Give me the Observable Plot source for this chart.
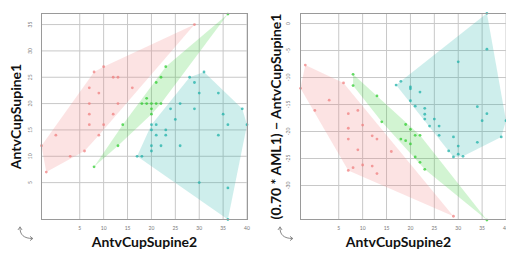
<!DOCTYPE html>
<html><head><meta charset="utf-8">
<script src="https://cdn.jsdelivr.net/npm/d3@7"></script>
<script src="https://cdn.jsdelivr.net/npm/@observablehq/plot@0.6"></script>
<style>
body{margin:0;background:#fff;width:506px;height:253px;overflow:hidden;position:relative;font-family:Lato,sans-serif}
#left,#right,#icons{position:absolute;top:0}
#left{left:0}#right{left:253px}#icons{left:0;pointer-events:none}
</style></head><body>
<div id="left"></div><div id="right"></div>
<svg id="icons" width="506" height="253"></svg>
<script>
// ---- tick labels ----
const xTicks = [5,10,15,20,25,30,35,40];
const leftYTicks = [5,10,15,20,25,30,35];
const rightYTicks = [0,-5,-10,-15,-20,-25,-30];

// ---- titles ----
const xTitle = "AntvCupSupine2";
const leftYTitle = "AntvCupSupine1";
const rightYTitle = "(0.70 * AML1) \u2212 AntvCupSupine1";

// ---- left panel data ----
const leftRedX   = [29, 8,10,12,13, 7, 9,16, 7,13, 7,12, 7,10, 0, 9,-3, 6, 3,-2];
const leftRedY   = [35,26,27,25,25,23,22,23,20,20,18,18,16,16,14,14,12,11,10, 7];
const leftGreenX = [36,23,22,21,19,18,19,20,21,22,20,20,14,13, 8];
const leftGreenY = [37,27,25,24,21,20,20,20,20,20,19,18,16,12, 8];
const leftTealX  = [31,28,29,30,34,26,24,29,39,35,25,20,21,36,40,20,23,21,23,34,20,22,26,20,17,18,30,36,36];
const leftTealY  = [26,25,24,22,22,20,19,19,19,18,17,16,16,16,16,15,15,14,14,14,12,12,12,11,10,10, 5, 4,-2];

// ---- right panel data ----
const rightRedX   = [-2,-3, 6, 3, 0, 7, 9,10, 7, 7,12,13, 9,16,10, 8,12, 7,13,29];
const rightRedY   = [-7.7,-12,-11,-14.2,-16.1,-16.7,-16.1,-18.8,-19.4,-21.4,-20.8,-21.4,-23.4,-23.7,-26.2,-26.7,-26.4,-27.2,-27.8,-35.7];
const rightGreenX = [8, 8,13,14,19,20,21,22,18,19,20,21,22,23,36];
const rightGreenY = [-9.4,-11.5,-13.4,-18.2,-18.7,-19.6,-20.7,-20.7,-21.4,-21.7,-22.3,-24.7,-25.7,-27.0,-36.4];
const rightTealX  = [36,36,30,17,18,20,20,22,20,21,23,23,23,25,34,36,35,40,24,26,26,29,39,34,30,28,30,29,31];
const rightTealY  = [1.9,-4.75,-7.1,-11.4,-10.7,-11.75,-12.1,-12.7,-14.3,-15.3,-15.7,-16.8,-17.7,-17.7,-15.4,-16.7,-18,-18,-19,-19,-20.7,-21,-21,-22,-22.7,-23.6,-24.2,-24.7,-24.6];

const groupColors = ["lightcoral","limegreen","lightseagreen"];

function rows(xs, ys){ return xs.map((x,i)=>({x, y: ys[i]})); }

function panel(groups, opts){
  const marks = [
    Plot.ruleX(xTicks, {stroke:"#c8c8c8", strokeWidth:1}),
    Plot.ruleY(opts.yTicks, {stroke:"#c8c8c8", strokeWidth:1})
  ];
  groups.forEach((g,i)=>{
    marks.push(Plot.hull(g, {x:"x", y:"y", fill: groupColors[i], fillOpacity:0.22, stroke:"none"}));
  });
  groups.forEach((g,i)=>{
    marks.push(Plot.dot(g, {x:"x", y:"y", r:1.4, fill: groupColors[i], fillOpacity:0.75, stroke:"none"}));
  });
  marks.push(
    Plot.frame({stroke:"#9a9a9a", strokeWidth:1}),
    Plot.text(xTicks, {x:d=>d, frameAnchor:"bottom", lineAnchor:"middle", dy:8.6, text:d=>String(d), fontSize:5, fill:"#777"}),
    Plot.text(opts.yTicks, {y:d=>d, frameAnchor:"left", textAnchor:"middle", lineAnchor:"middle", dx:opts.yTickDx, rotate:-90, text:d=>String(d), fontSize:5, fill:"#777"}),
    Plot.text([xTitle], {frameAnchor:"bottom", textAnchor:"middle", lineAnchor:"middle", dx:opts.xTitleDx, dy:23.5, text:d=>d, fontSize:14, fontWeight:"bold", fill:"#111"}),
    Plot.text([opts.yTitle], {frameAnchor:"left", textAnchor:"middle", lineAnchor:"middle", dx:opts.yTitleDx, rotate:-90, text:d=>d, fontSize:14, fontWeight:"bold", fill:"#111"})
  );
  return Plot.plot({
    width: 253, height: 253,
    marginLeft: opts.ml, marginRight: opts.mr, marginTop: 13, marginBottom: 34,
    style: {fontFamily: "Lato, sans-serif", background: "transparent", overflow: "visible"},
    x: {domain: [-3, 40.1], axis: null},
    y: {domain: opts.yDomain, axis: null},
    marks
  });
}

document.getElementById("left").append(panel(
  [rows(leftRedX,leftRedY), rows(leftGreenX,leftGreenY), rows(leftTealX,leftTealY)],
  {yTicks: leftYTicks, yDomain: [-2, 37.1], yTitle: leftYTitle, ml: 41, mr: 6, yTickDx: -11.5, yTitleDx: -24.5, xTitleDx: 0}
));
document.getElementById("right").append(panel(
  [rows(rightRedX,rightRedY), rows(rightGreenX,rightGreenY), rows(rightTealX,rightTealY)],
  {yTicks: rightYTicks, yDomain: [-36.3, 1.86], yTitle: rightYTitle, ml: 47, mr: 0, yTickDx: -12.5, yTitleDx: -24, xTitleDx: -5}
));

// decorative rotate icons
const icons = d3.select("#icons");
[0, 260].forEach(off => {
  const g = icons.append("g").attr("transform", `translate(${off},0)`)
    .attr("fill","none").attr("stroke","#8a8a8a").attr("stroke-width",1).attr("stroke-linecap","round");
  g.append("path").attr("d","M20,227 C19.5,235 24,238.5 32.5,238.5");
  g.append("path").attr("d","M18.2,229.6 L20,227 L21.8,229.6");
  g.append("path").attr("d","M30.3,236.6 L32.8,238.5 L30.3,240.4");
});
</script>
</body></html>
